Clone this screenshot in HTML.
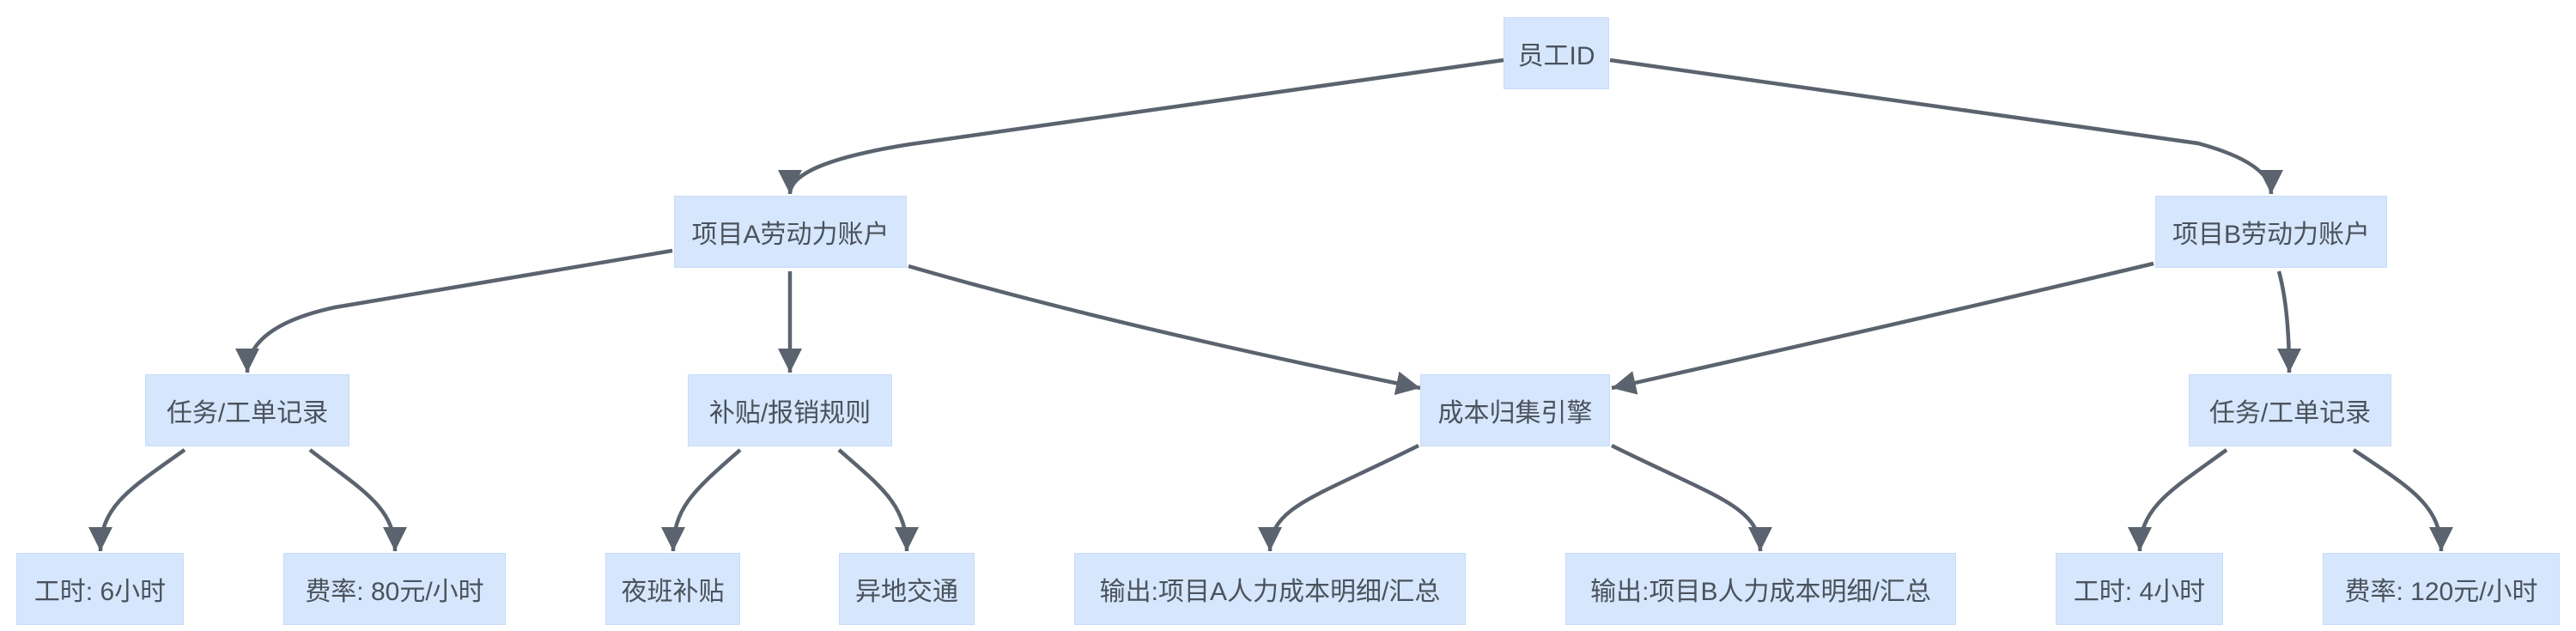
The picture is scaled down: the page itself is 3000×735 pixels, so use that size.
<!DOCTYPE html>
<html><head><meta charset="utf-8"><style>
body{margin:0;width:3000px;height:735px;background:#fff;overflow:hidden;position:relative;font-family:"Liberation Sans","Noto Sans CJK SC",sans-serif}
.n{position:absolute;background:#d6e6fd;border:1px solid #c8dcf8;box-sizing:border-box;display:flex;align-items:center;justify-content:center;color:#4a525c;font-size:30px;white-space:nowrap;height:84px}
svg{position:absolute;left:0;top:0}
</style></head><body>
<svg width="3000" height="735">
<defs><marker id="a" markerUnits="userSpaceOnUse" markerWidth="30" markerHeight="30" refX="28" refY="14" orient="auto"><path d="M0,0 L28,14 L0,28 z" fill="#5a636e"/></marker></defs>
<g fill="none" stroke="#5a636e" stroke-width="4.5" marker-end="url(#a)">
<path d="M1751,70 L1060,168 Q920,190 920,226"/>
<path d="M1875,70 L2560,167 Q2645,190 2645,226"/>
<path d="M783,292 L390,358 Q288,380 288,434"/>
<path d="M920,316 L920,434"/>
<path d="M1058,310 Q1300,380 1654,452"/>
<path d="M2508,307 Q2200,380 1877,452"/>
<path d="M2654,316 Q2666,360 2666,434"/>
<path d="M215,524 C150,570 117,590 117,642"/>
<path d="M361,524 C420,570 460,590 460,642"/>
<path d="M862,524 C810,570 784,590 784,642"/>
<path d="M977,524 C1030,570 1056,590 1056,642"/>
<path d="M1652,519 C1530,580 1479,590 1479,642"/>
<path d="M1877,519 C2000,580 2050,590 2050,642"/>
<path d="M2593,524 C2530,570 2492,590 2492,642"/>
<path d="M2741,524 C2810,570 2843,590 2843,642"/>
</g></svg>
<div class="n" style="left:1751px;top:20px;width:123px">员工ID</div>
<div class="n" style="left:785px;top:228px;width:271px">项目A劳动力账户</div>
<div class="n" style="left:2510px;top:228px;width:270px">项目B劳动力账户</div>
<div class="n" style="left:169px;top:436px;width:238px">任务/工单记录</div>
<div class="n" style="left:801px;top:436px;width:238px">补贴/报销规则</div>
<div class="n" style="left:1654px;top:436px;width:221px">成本归集引擎</div>
<div class="n" style="left:2549px;top:436px;width:236px">任务/工单记录</div>
<div class="n" style="left:19px;top:644px;width:195px">工时: 6小时</div>
<div class="n" style="left:330px;top:644px;width:259px">费率: 80元/小时</div>
<div class="n" style="left:705px;top:644px;width:157px">夜班补贴</div>
<div class="n" style="left:977px;top:644px;width:158px">异地交通</div>
<div class="n" style="left:1251px;top:644px;width:456px">输出:项目A人力成本明细/汇总</div>
<div class="n" style="left:1823px;top:644px;width:455px">输出:项目B人力成本明细/汇总</div>
<div class="n" style="left:2394px;top:644px;width:195px">工时: 4小时</div>
<div class="n" style="left:2705px;top:644px;width:276px">费率: 120元/小时</div>
</body></html>
